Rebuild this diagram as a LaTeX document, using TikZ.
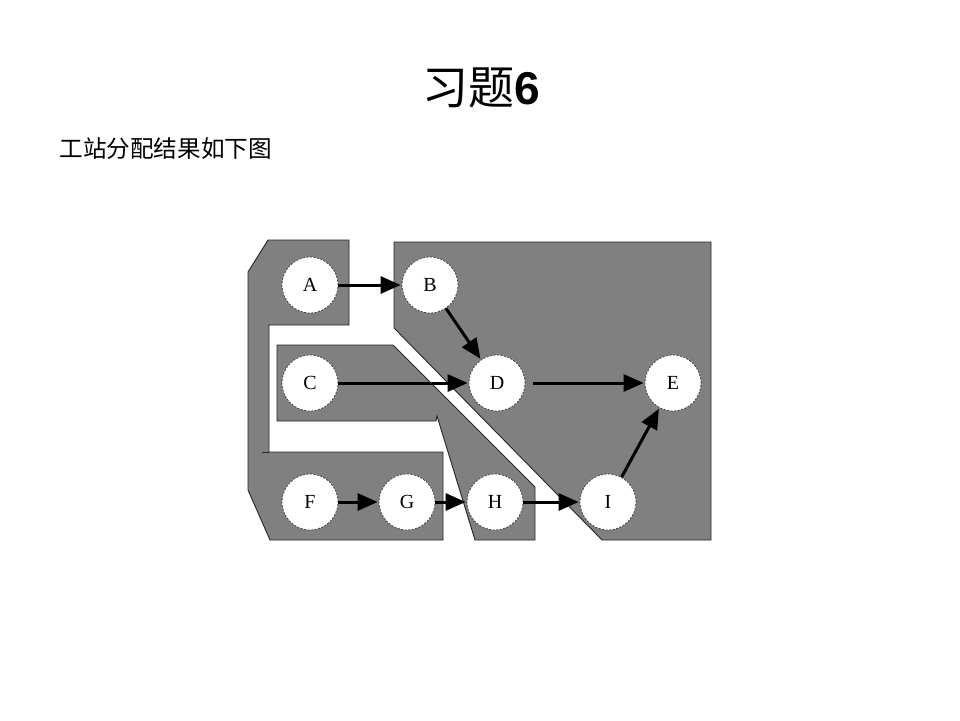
\documentclass[tikz,border=0pt]{standalone}
\usepackage{fontspec}
\setmainfont{Liberation Serif}
\newfontfamily\cjk{Noto Sans CJK SC}
\newfontfamily\arialb{Liberation Sans}
\usetikzlibrary{arrows.meta}
\tikzset{
  station/.style={fill=black!50, draw=black!85, line width=0.9pt},
  task/.style={circle, fill=white, draw=black!75, dash pattern=on 2pt off 1.5pt, line width=0.8pt, minimum size=56pt, inner sep=0pt, font=\fontsize{20}{20}\selectfont},
  flow/.style={line width=3pt, -{Triangle[length=20pt,width=17pt]}, shorten >=1pt}
}
\begin{document}
\begin{tikzpicture}[x=1pt,y=-1pt]
\useasboundingbox (0,0) rectangle (960,720);
% title
\node (title) at (481,88) {\cjk\fontsize{46}{46}\selectfont 习题\arialb\bfseries 6};
\node[anchor=west] (sub) at (56,149) {\cjk\fontsize{23.6}{24}\selectfont 工站分配结果如下图};
% stations
\draw[station] (268,240) -- (349,240) -- (349,325) -- (269,325) -- (269,452) -- (443,452) -- (443,540) -- (270,540) -- (248,490) -- (248,272) -- cycle;
\draw[station] (262,452) -- (269,452);
\draw[station] (277,345) -- (393,345) -- (535,487) -- (535,540) -- (475,540) -- (437,416) -- (436,421) -- (277,421) -- cycle;
\draw[station] (394,242) -- (711,242) -- (711,540) -- (602,540) -- (394,328) -- cycle;
% tasks
\node[task] (A) at (310,285) {A};
\node[task] (B) at (430,285) {B};
\node[task] (C) at (310,383) {C};
\node[task] (D) at (497,383) {D};
\node[task] (E) at (673,383) {E};
\node[task] (F) at (310,502) {F};
\node[task] (G) at (407,502) {G};
\node[task] (H) at (495,502) {H};
\node[task] (I) at (608,502) {I};
% precedence
\draw[flow] (A) -- (B);
\draw[flow] (B) -- (D);
\draw[flow] (C) -- (D);
\draw[flow, shorten <=8pt] (D) -- (E);
\draw[flow] (F) -- (G);
\draw[flow] (G) -- (H);
\draw[flow] (H) -- (I);
\draw[flow] (I) -- (E);
\end{tikzpicture}
\end{document}
